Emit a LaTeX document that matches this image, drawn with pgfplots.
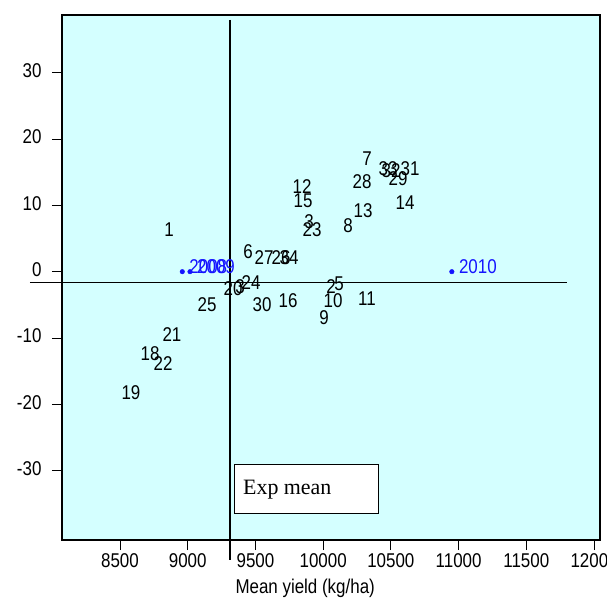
\documentclass[border=0pt]{standalone}
\usepackage{pgfplots}
\pgfplotsset{compat=1.18}
\usepackage{pgfplotstable}
\usepackage{fontspec}
\setmainfont[FakeStretch=0.85]{Liberation Sans}
\newfontfamily\seriffont{Liberation Serif}
\definecolor{bgc}{RGB}{212,255,255}
\definecolor{ptblue}{RGB}{20,20,255}

\pgfplotstableread{
x y label
8862 6.3 1
9896 7.6 3
9918 6.3 23
9445 3.0 6
9564 2.2 27
9689 2.1 26
9748 2.1 34
9844 12.8 12
9852 10.7 15
10324 17.0 7
10287 13.5 28
10295 9.2 13
10184 7.0 8
10479 15.5 33
10502 15.2 32
10553 14.1 29
10642 15.6 31
10605 10.4 14
9335 -2.6 20
9386 -2.3 3
9468 -1.7 24
9143 -4.9 25
9549 -4.9 30
9741 -4.4 16
10058 -2.3 2
10117 -1.8 5
10073 -4.3 10
10007 -7.0 9
10324 -4.1 11
8884 -9.5 21
8722 -12.4 18
8818 -13.8 22
8581 -18.3 19
}\caselabels

\pgfplotstableread{
x y label
8960 0 2008
9017 0 2009
10950 0 2010
}\yearpoints

\begin{document}
\begin{tikzpicture}[x=1bp,y=1bp]
\useasboundingbox (-62,-73) rectangle (545,540);
\begin{axis}[
  at={(0,0)}, anchor=south west,
  width=538bp, height=525bp, scale only axis,
  xmin=8072, xmax=12044, ymin=-40.45, ymax=38.7,
  clip=false,
  scaled x ticks=false, scaled y ticks=false,
  axis background/.style={fill=bgc},
  axis line style={line width=1.4pt},
  xtick={8500,9000,9500,10000,10500,11000,11500,12000},
  xticklabels={8500,9000,9500,10000,10500,11000,11500,12000},
  ytick={-30,-20,-10,0,10,20,30},
  yticklabels={-30,-20,-10,0,10,20,30},
  tick align=outside, major tick length=10bp,
  xtick pos=lower, ytick pos=left,
  tick style={black, line width=0.9pt},
  ticklabel style={font=\fontsize{20}{22}\selectfont},
  yticklabel style={xshift=-7bp, yshift=2bp},
  xlabel={Mean yield (kg/ha)},
  xlabel style={at={(axis description cs:0.452,0)}, anchor=center, yshift=-48bp, font=\fontsize{20}{22}\selectfont},
]
\addplot[black, line width=1.5pt] coordinates {(9312,37.95) (9312,-43.5)};
\addplot[black, line width=1.5pt] coordinates {(7835,-1.65) (11801,-1.65)};
\addplot[only marks, mark=none, nodes near coords, point meta=explicit symbolic,
  nodes near coords style={anchor=center, inner sep=0pt, font=\fontsize{20}{22}\selectfont, text=black}]
  table[meta=label] {\caselabels};
\addplot[only marks, mark=*, mark size=2.3bp, ptblue, nodes near coords, point meta=explicit symbolic,
  nodes near coords style={anchor=base west, inner sep=0pt, xshift=7bp, yshift=-2bp, font=\fontsize{20}{22}\selectfont, text=ptblue}]
  table[meta=label] {\yearpoints};
\draw[black, fill=white, line width=0.9pt] (axis cs:9342,-29.0) rectangle (axis cs:10406,-36.5);
\node[anchor=west, inner sep=0pt, font=\seriffont\fontsize{22}{24}\selectfont] at (axis cs:9408,-32.9) {Exp mean};
\end{axis}
\end{tikzpicture}
\end{document}
